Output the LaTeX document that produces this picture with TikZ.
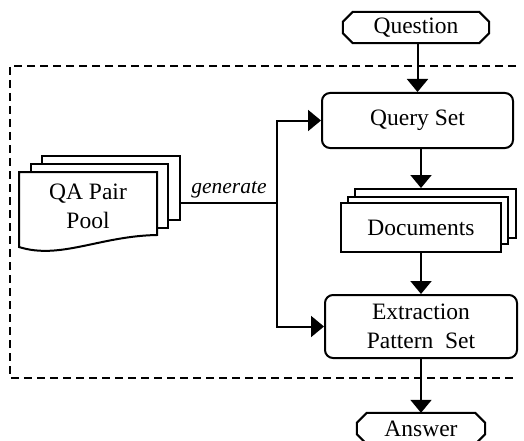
\documentclass[tikz,border=0pt]{standalone}
\usepackage{fontspec}
\setmainfont{Liberation Serif}
\usetikzlibrary{arrows.meta}
\begin{document}
\begin{tikzpicture}[x=1pt,y=-1pt,
  txt/.style={font=\fontsize{23.5}{29}\selectfont, align=center, inner sep=0pt},
  ln/.style={line width=2pt, line join=miter},
  arr/.style={ln,-{Triangle[width=21pt,length=13pt]}},
  rbox/.style={txt, draw, ln, rounded corners=8pt, fill=white},
  sbox/.style={txt, draw, ln, fill=white},
  frame/.style={line width=1.7pt, dash pattern=on 8pt off 5pt}
]
\useasboundingbox (0,0) rectangle (524,441);
\clip (0,0) rectangle (524,441);

% dashed frame
\draw[frame] (516,66) -- (10,66) -- (10,378) -- (516,378);

% Question / Answer terminals
\node[txt, minimum width=146pt, minimum height=31pt] (q) at (416,27.5) {Question};
\draw[ln] ([xshift=10pt]q.north west) -- ([xshift=-10pt]q.north east) -- ([yshift=-10pt]q.north east)
  -- ([yshift=10pt]q.south east) -- ([xshift=-10pt]q.south east) -- ([xshift=10pt]q.south west)
  -- ([yshift=10pt]q.south west) -- ([yshift=-10pt]q.north west) -- cycle;

\node[txt, minimum width=128pt, minimum height=31pt] (a) at (421,428.5) {Answer};
\draw[ln] ([xshift=10pt]a.north west) -- ([xshift=-10pt]a.north east) -- ([yshift=-10pt]a.north east)
  -- ([yshift=10pt]a.south east) -- ([xshift=-10pt]a.south east) -- ([xshift=10pt]a.south west)
  -- ([yshift=10pt]a.south west) -- ([yshift=-10pt]a.north west) -- cycle;

% Query Set
\node[rbox, minimum width=191pt, minimum height=55pt] (qs) at (417.5,120.5) {Query Set};

% Documents stack
\node[sbox, minimum width=161pt, minimum height=49pt] (d3) at (435.5,213.5) {};
\node[sbox, minimum width=160pt, minimum height=47pt] (d2) at (428,220.5) {};
\node[sbox, minimum width=160pt, minimum height=49pt] (d1) at (421,227.5) {Documents};

% Extraction Pattern Set
\node[rbox, minimum width=192pt, minimum height=63pt] (ex) at (421,326.5) {Extraction\\Pattern~ Set};

% QA Pair Pool stack
\node[sbox, minimum width=138pt, minimum height=64pt] (p3) at (111,188) {};
\node[sbox, minimum width=137pt, minimum height=64pt] (p2) at (99.5,196) {};
\filldraw[ln, fill=white] (19,172) -- (157,172) -- (157,235)
  .. controls (100,236) and (60,260) .. (19,247) -- cycle;
\node[txt] (p1) at (88,206) {QA Pair\\Pool};

% generate connector
\coordinate (j) at (277,203);
\draw[ln] (p3.east |- j) -- node[above=4pt, txt, font=\fontsize{21.5}{25}\selectfont\itshape] (g) {generate} (j);
\draw[arr] (j) |- (qs.west);
\draw[arr] (j) |- (ex.west);

% main flow
\draw[arr] (q.south -| qs) -- (qs.north);
\draw[arr] (qs.south -| d1) -- (d3.north -| d1);
\draw[arr] (d1.south) -- (d1.south |- ex.north);
\draw[arr] (ex.south -| d1) -- (a.north -| d1);
\end{tikzpicture}
\end{document}
